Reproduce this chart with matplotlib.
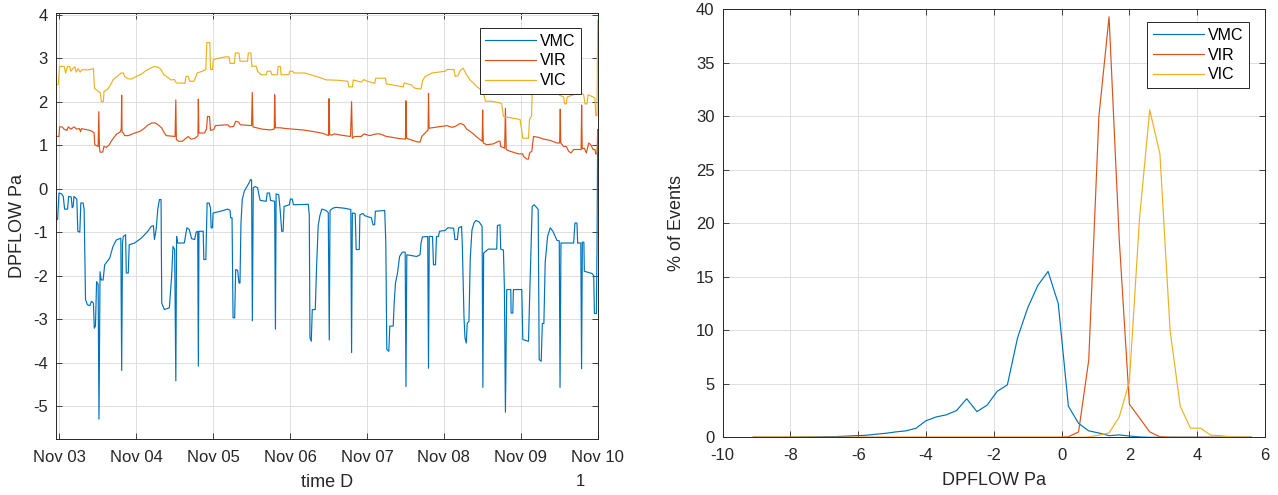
import numpy as np
import matplotlib
matplotlib.use("Agg")
import matplotlib.pyplot as plt
import matplotlib.dates as mdates

plt.rcParams["font.family"] = ["Liberation Sans", "DejaVu Sans"]
plt.rcParams["axes.unicode_minus"] = False

# === data: time series (days after Nov 03 00:00, DPFLOW Pa) ===
vmc_pts = [
    (-0.043, -0.71), (-0.022, -0.71), (-0.004, -0.10), (0.03, -0.12), (0.052, -0.18), (0.069, -0.47),
    (0.108, -0.47), (0.121, -0.18), (0.155, -0.19), (0.168, -0.44), (0.181, -0.41), (0.19, -0.18),
    (0.228, -0.24), (0.241, -0.98), (0.267, -1.0), (0.28, -0.33), (0.31, -0.33), (0.323, -0.48),
    (0.341, -2.55), (0.366, -2.67), (0.397, -2.69), (0.418, -2.59), (0.444, -2.63), (0.455, -3.21),
    (0.47, -3.16), (0.485, -2.14), (0.505, -2.2), (0.516, -5.30), (0.53, -1.91), (0.545, -2.1),
    (0.57, -2.1), (0.59, -1.75), (0.655, -1.6), (0.698, -1.33), (0.741, -1.18), (0.80, -1.14),
    (0.811, -4.18), (0.822, -1.25), (0.832, -1.10), (0.862, -1.06), (0.871, -1.94), (0.897, -1.94),
    (0.909, -1.29), (0.978, -1.25), (1.065, -1.14), (1.151, -0.98), (1.194, -0.87), (1.224, -0.85),
    (1.237, -1.17), (1.259, -0.94), (1.28, -0.48), (1.302, -0.25), (1.323, -0.25), (1.332, -2.63),
    (1.366, -2.78), (1.431, -2.74), (1.461, -2.0), (1.478, -1.33), (1.50, -1.4), (1.515, -4.42),
    (1.525, -1.10), (1.539, -1.25), (1.625, -1.25), (1.659, -0.90), (1.69, -0.94), (1.72, -1.15),
    (1.76, -1.17), (1.78, -1.0), (1.80, -0.98), (1.808, -4.08), (1.816, -0.98), (1.871, -0.98),
    (1.879, -1.63), (1.905, -1.63), (1.922, -0.33), (1.948, -0.33), (1.966, -0.45), (1.974, -0.90),
    (1.991, -0.90), (2.0, -0.56), (2.095, -0.52), (2.19, -0.47), (2.22, -0.50), (2.228, -0.67),
    (2.246, -0.67), (2.259, -2.97), (2.28, -2.97), (2.293, -1.86), (2.319, -1.88), (2.336, -2.17),
    (2.349, -2.17), (2.362, -0.79), (2.379, -0.25), (2.405, -0.06), (2.431, 0.02), (2.466, 0.13),
    (2.487, 0.21), (2.50, 0.20), (2.51, -3.04), (2.522, 0.02), (2.547, 0.05), (2.578, 0.02),
    (2.595, -0.14), (2.612, -0.27), (2.69, -0.29), (2.703, -0.10), (2.733, -0.10), (2.746, -0.27),
    (2.80, -0.29), (2.81, -3.23), (2.819, -0.12), (2.853, -0.14), (2.871, -0.48), (2.892, -0.98),
    (2.91, -0.98), (2.922, -0.41), (2.991, -0.37), (3.004, -0.24), (3.03, -0.24), (3.043, -0.37),
    (3.237, -0.36), (3.25, -0.6), (3.259, -3.43), (3.276, -3.51), (3.289, -2.78), (3.328, -2.78),
    (3.345, -1.8), (3.366, -0.85), (3.388, -0.62), (3.414, -0.47), (3.466, -0.50), (3.497, -0.55),
    (3.51, -3.48), (3.52, -0.50), (3.555, -0.45), (3.598, -0.43), (3.707, -0.45), (3.79, -0.48),
    (3.80, -3.77), (3.81, -0.56), (3.847, -0.57), (3.86, -1.40), (3.90, -1.40), (3.908, -0.60),
    (3.948, -0.57), (3.969, -0.62), (4.057, -0.67), (4.079, -0.83), (4.10, -0.83), (4.109, -0.52),
    (4.231, -0.50), (4.245, -1.25), (4.258, -3.70), (4.284, -3.74), (4.297, -3.16), (4.341, -3.16),
    (4.354, -2.63), (4.371, -2.17), (4.397, -1.94), (4.424, -1.56), (4.459, -1.46), (4.497, -1.46),
    (4.507, -4.55), (4.518, -1.52), (4.646, -1.56), (4.69, -1.52), (4.703, -1.25), (4.721, -1.11),
    (4.79, -1.10), (4.80, -4.13), (4.81, -1.10), (4.852, -1.10), (4.865, -1.75), (4.891, -1.75),
    (4.904, -1.10), (4.93, -1.10), (4.943, -0.98), (5.017, -0.96), (5.052, -0.90), (5.127, -0.91),
    (5.144, -1.17), (5.175, -1.17), (5.192, -0.90), (5.23, -0.87), (5.239, -1.25), (5.261, -2.93),
    (5.274, -3.43), (5.291, -3.55), (5.304, -3.09), (5.326, -3.05), (5.343, -1.6), (5.365, -0.95),
    (5.391, -0.79), (5.417, -0.73), (5.461, -0.77), (5.497, -0.87), (5.507, -4.57), (5.517, -1.48),
    (5.578, -1.39), (5.687, -1.39), (5.696, -0.85), (5.73, -0.83), (5.739, -1.39), (5.774, -1.41),
    (5.787, -2.3), (5.80, -5.14), (5.817, -2.32), (5.87, -2.32), (5.874, -2.86), (5.896, -2.86),
    (5.904, -2.32), (6.013, -2.32), (6.026, -3.47), (6.1, -3.51), (6.113, -2.63), (6.135, -1.25),
    (6.148, -0.41), (6.174, -0.37), (6.209, -0.44), (6.226, -0.48), (6.239, -3.93), (6.265, -3.97),
    (6.28, -3.1), (6.30, -3.1), (6.317, -1.7), (6.348, -1.1), (6.383, -0.90), (6.417, -0.98),
    (6.47, -1.19), (6.5, -1.2), (6.51, -4.57), (6.522, -1.25), (6.687, -1.25), (6.704, -0.79),
    (6.73, -0.79), (6.739, -1.25), (6.78, -1.25), (6.79, -4.14), (6.80, -1.23), (6.82, -1.23),
    (6.826, -1.90), (6.926, -1.95), (6.948, -2.0), (6.957, -2.87), (6.983, -2.87), (6.991, -1.25),
    (7.0, 1.36),
]

vir_pts = [
    (-0.043, 1.20), (-0.004, 1.20), (0.004, 1.42), (0.039, 1.42), (0.060, 1.37), (0.099, 1.34),
    (0.116, 1.42), (0.151, 1.37), (0.194, 1.42), (0.224, 1.37), (0.263, 1.38), (0.276, 1.31),
    (0.289, 1.38), (0.375, 1.35), (0.427, 1.32), (0.453, 1.28), (0.461, 1.01), (0.505, 0.97),
    (0.514, 1.77), (0.522, 0.95), (0.53, 0.84), (0.565, 0.84), (0.58, 0.97), (0.612, 0.95),
    (0.65, 1.01), (0.675, 1.09), (0.72, 1.20), (0.75, 1.26), (0.79, 1.30), (0.806, 1.37),
    (0.811, 2.15), (0.816, 1.30), (0.83, 1.29), (0.85, 1.22), (0.90, 1.22), (0.95, 1.26),
    (1.0, 1.29), (1.05, 1.32), (1.10, 1.38), (1.15, 1.46), (1.20, 1.51), (1.25, 1.51),
    (1.29, 1.46), (1.33, 1.40), (1.36, 1.30), (1.39, 1.22), (1.505, 1.20), (1.515, 2.04),
    (1.522, 1.13), (1.55, 1.09), (1.60, 1.09), (1.647, 1.16), (1.677, 1.20), (1.711, 1.14),
    (1.754, 1.15), (1.793, 1.20), (1.803, 1.22), (1.808, 2.06), (1.815, 1.28), (1.888, 1.28),
    (1.914, 1.37), (1.927, 1.66), (1.953, 1.66), (1.966, 1.34), (2.009, 1.36), (2.03, 1.45),
    (2.19, 1.47), (2.216, 1.42), (2.267, 1.43), (2.293, 1.55), (2.332, 1.53), (2.353, 1.47),
    (2.50, 1.45), (2.509, 2.21), (2.518, 1.42), (2.634, 1.37), (2.741, 1.35), (2.795, 1.37),
    (2.80, 2.16), (2.81, 1.40), (2.871, 1.40), (2.957, 1.38), (3.172, 1.35), (3.345, 1.30),
    (3.431, 1.27), (3.50, 1.22), (3.507, 2.07), (3.515, 1.24), (3.541, 1.23), (3.576, 1.26),
    (3.664, 1.23), (3.786, 1.20), (3.80, 2.0), (3.81, 1.16), (3.838, 1.20), (3.926, 1.20),
    (3.961, 1.26), (4.035, 1.22), (4.122, 1.26), (4.166, 1.26), (4.253, 1.20), (4.297, 1.19),
    (4.428, 1.15), (4.50, 1.14), (4.507, 2.02), (4.515, 1.16), (4.559, 1.13), (4.646, 1.08),
    (4.69, 1.07), (4.712, 1.20), (4.777, 1.32), (4.795, 1.35), (4.80, 2.19), (4.808, 1.39),
    (4.886, 1.41), (4.974, 1.43), (5.039, 1.45), (5.105, 1.41), (5.148, 1.43), (5.183, 1.47),
    (5.214, 1.50), (5.258, 1.47), (5.296, 1.37), (5.339, 1.32), (5.383, 1.26), (5.426, 1.19),
    (5.47, 1.13), (5.498, 1.09), (5.504, 1.81), (5.512, 1.05), (5.557, 1.01), (5.643, 1.03),
    (5.709, 1.09), (5.73, 1.09), (5.739, 0.97), (5.79, 0.93), (5.80, 1.85), (5.81, 0.90),
    (5.861, 0.86), (5.97, 0.80), (6.026, 0.80), (6.035, 0.74), (6.078, 0.68), (6.1, 0.68),
    (6.113, 0.82), (6.143, 0.86), (6.165, 1.20), (6.23, 1.18), (6.296, 1.14), (6.383, 1.11),
    (6.47, 1.05), (6.505, 1.05), (6.513, 1.83), (6.52, 1.05), (6.557, 0.97), (6.591, 0.97),
    (6.622, 0.86), (6.652, 0.82), (6.687, 0.90), (6.784, 0.90), (6.791, 1.92), (6.798, 0.92),
    (6.826, 0.93), (6.852, 0.82), (6.883, 1.05), (6.913, 1.0), (6.939, 0.90), (6.965, 0.90),
    (6.974, 0.80), (6.991, 0.80), (7.0, 1.35),
]

vic_pts = [
    (-0.043, 2.38), (-0.013, 2.40), (0.004, 2.81), (0.065, 2.81), (0.082, 2.66), (0.108, 2.81),
    (0.134, 2.81), (0.151, 2.70), (0.181, 2.77), (0.203, 2.80), (0.22, 2.68), (0.246, 2.76),
    (0.272, 2.68), (0.297, 2.74), (0.353, 2.73), (0.401, 2.74), (0.444, 2.76), (0.457, 2.31),
    (0.504, 2.24), (0.534, 2.20), (0.547, 2.0), (0.573, 2.0), (0.582, 2.24), (0.625, 2.28),
    (0.668, 2.39), (0.698, 2.50), (0.728, 2.55), (0.763, 2.60), (0.806, 2.66), (0.832, 2.66),
    (0.849, 2.58), (0.892, 2.53), (0.935, 2.52), (1.0, 2.58), (1.065, 2.63), (1.116, 2.70),
    (1.172, 2.76), (1.237, 2.81), (1.289, 2.79), (1.323, 2.74), (1.358, 2.62), (1.409, 2.56),
    (1.453, 2.50), (1.496, 2.51), (1.522, 2.43), (1.582, 2.43), (1.634, 2.42), (1.647, 2.58),
    (1.677, 2.58), (1.694, 2.47), (1.75, 2.47), (1.767, 2.54), (1.793, 2.66), (1.858, 2.70),
    (1.905, 2.74), (1.918, 3.36), (1.957, 3.36), (1.966, 2.74), (1.991, 2.74), (2.004, 2.97),
    (2.073, 3.0), (2.159, 3.03), (2.207, 3.03), (2.22, 2.88), (2.276, 2.88), (2.289, 3.12),
    (2.336, 3.12), (2.349, 2.93), (2.448, 2.93), (2.457, 3.12), (2.491, 3.12), (2.504, 2.81),
    (2.56, 2.82), (2.578, 2.70), (2.621, 2.62), (2.69, 2.62), (2.703, 2.70), (2.75, 2.70),
    (2.763, 2.62), (2.836, 2.62), (2.845, 2.81), (2.875, 2.81), (2.884, 2.62), (2.983, 2.62),
    (2.996, 2.70), (3.034, 2.70), (3.052, 2.66), (3.194, 2.66), (3.302, 2.60), (3.397, 2.55),
    (3.474, 2.50), (3.515, 2.50), (3.642, 2.49), (3.751, 2.47), (3.764, 2.34), (3.812, 2.34),
    (3.821, 2.50), (3.926, 2.45), (3.961, 2.51), (3.991, 2.48), (4.10, 2.42), (4.114, 2.54),
    (4.24, 2.54), (4.253, 2.41), (4.472, 2.34), (4.485, 2.43), (4.572, 2.39), (4.624, 2.31),
    (4.703, 2.29), (4.721, 2.47), (4.755, 2.58), (4.843, 2.66), (5.017, 2.70), (5.039, 2.74),
    (5.131, 2.74), (5.148, 2.58), (5.183, 2.60), (5.214, 2.72), (5.25, 2.77), (5.296, 2.62),
    (5.339, 2.50), (5.383, 2.43), (5.426, 2.35), (5.47, 2.29), (5.513, 2.21), (5.54, 2.01),
    (5.622, 2.01), (5.73, 1.97), (5.752, 1.95), (5.774, 1.66), (5.991, 1.59), (6.026, 1.16),
    (6.1, 1.16), (6.113, 1.59), (6.139, 1.66), (6.148, 2.2), (6.25, 2.35), (6.40, 2.3),
    (6.47, 2.2), (6.513, 2.14), (6.557, 2.11), (6.57, 1.95), (6.591, 1.95), (6.604, 2.11),
    (6.687, 2.16), (6.783, 2.2), (6.817, 2.16), (6.835, 1.95), (6.861, 1.95), (6.874, 2.16),
    (6.939, 2.11), (6.965, 2.08), (6.974, 1.68), (6.991, 1.68), (7.0, 3.88),
]

# === data: distribution (% of events per DPFLOW bin) ===
bin_centers = [-9.1, -8.8, -8.5, -8.2, -7.9, -7.6, -7.3, -7.0, -6.7, -6.4,
               -6.1, -5.8, -5.5, -5.2, -4.9, -4.6, -4.3, -4.0, -3.7, -3.4,
               -3.1, -2.8, -2.5, -2.2, -1.9, -1.6, -1.3, -1.0, -0.7, -0.4,
               -0.1, 0.2, 0.5, 0.8, 1.1, 1.4, 1.7, 2.0, 2.3, 2.6,
               2.9, 3.2, 3.5, 3.8, 4.1, 4.4, 4.7, 5.0, 5.3, 5.6]
vmc_pct = [0, 0, 0, 0, 0.01, 0.02, 0.03, 0.05, 0.06, 0.10,
           0.15, 0.18, 0.28, 0.37, 0.50, 0.60, 0.84, 1.55, 1.90, 2.10,
           2.50, 3.60, 2.40, 3.00, 4.30, 4.90, 9.30, 12.1, 14.2, 15.5,
           12.5, 2.90, 1.30, 0.60, 0.40, 0.15, 0.22, 0.12, 0.03, 0,
           0, 0, 0, 0, 0, 0, 0, 0, 0, 0]
vir_pct = [0, 0, 0, 0, 0, 0, 0, 0, 0, 0,
           0, 0, 0, 0, 0, 0, 0, 0, 0, 0,
           0, 0, 0, 0, 0, 0, 0, 0, 0, 0,
           0, 0.05, 0.5, 7.2, 30.0, 39.3, 18.5, 3.1, 1.8, 0.5,
           0.05, 0, 0, 0, 0, 0, 0, 0, 0, 0]
vic_pct = [0, 0, 0, 0, 0, 0, 0, 0, 0, 0,
           0, 0, 0, 0, 0, 0, 0, 0, 0, 0,
           0, 0, 0, 0, 0, 0, 0, 0, 0, 0,
           0, 0, 0, 0.03, 0.2, 0.4, 1.9, 5.2, 20.5, 30.6,
           26.5, 10.0, 2.9, 0.85, 0.85, 0.2, 0.15, 0.03, 0, 0]

names = ["VMC", "VIR", "VIC"]
colors = ["#0072BD", "#D95319", "#EDB120"]
text_col = "#262626"

fig = plt.figure(figsize=(12.78, 4.95), dpi=100)
ax1 = fig.add_axes([0.0438, 0.1125, 0.4239, 0.8618])
ax2 = fig.add_axes([0.5655, 0.1166, 0.4243, 0.8646])

# === left: time series ===
base = mdates.date2num(np.datetime64("2023-11-03T00:00"))
for name, pts, c in zip(names, [vmc_pts, vir_pts, vic_pts], colors):
    t, v = zip(*pts)
    ax1.plot(base + np.array(t), v, color=c, lw=0.85, label=name)

ax1.set_xlim(base - 0.043, base + 7.0)
ax1.set_ylim(-5.764, 4.046)
ax1.set_yticks(range(-5, 5))
ax1.xaxis.set_major_locator(mdates.DayLocator())
ax1.xaxis.set_major_formatter(mdates.DateFormatter("%b %d"))
ax1.set_xlabel("time D", fontsize=13, color=text_col, labelpad=6)
ax1.set_ylabel("DPFLOW Pa", fontsize=13, color=text_col, labelpad=5)
fig.text(580 / 1278, 1 - 482 / 495, "1", fontsize=12, color=text_col, ha="center", va="center")

# === right: distribution ===
for name, pct, c in zip(names, [vmc_pct, vir_pct, vic_pct], colors):
    ax2.plot(bin_centers, pct, color=c, lw=0.85, label=name)

ax2.set_xlim(-10, 6)
ax2.set_ylim(0, 40)
ax2.set_xticks(range(-10, 7, 2))
ax2.set_yticks(range(0, 41, 5))
ax2.set_xlabel("DPFLOW Pa", fontsize=13, color=text_col, labelpad=6)
ax2.set_ylabel("% of Events", fontsize=13, color=text_col, labelpad=8)

legend_anchor = [(0.970, 0.964), (0.971, 0.970)]
for ax, anchor in zip((ax1, ax2), legend_anchor):
    ax.grid(True, color="#dedede", lw=0.7)
    ax.set_axisbelow(True)
    ax.tick_params(direction="in", length=4, width=0.6, top=True, right=True,
                   labelsize=12, colors=text_col, pad=6)
    ax.tick_params(axis="x", pad=8)
    for s in ax.spines.values():
        s.set_color(text_col)
        s.set_linewidth(0.7)
    leg = ax.legend(loc="upper right", bbox_to_anchor=anchor, fontsize=11.5,
                    handlelength=3.2, handletextpad=0.25, labelspacing=0.3, borderpad=0.35,
                    borderaxespad=0, fancybox=False, framealpha=1, edgecolor="#262626")
    leg.get_frame().set_linewidth(0.7)

fig.savefig("out.png", dpi=100)
